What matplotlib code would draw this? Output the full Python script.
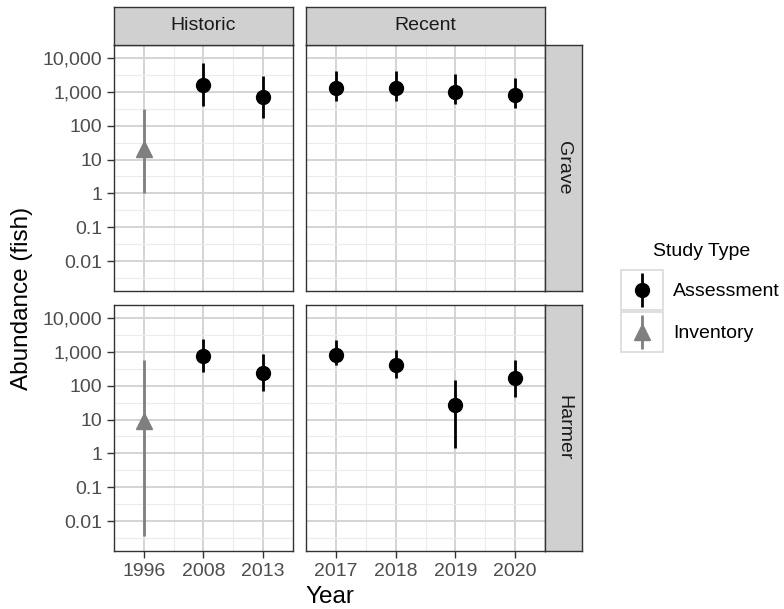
import numpy as np
import matplotlib
matplotlib.use("Agg")
import matplotlib.pyplot as plt
from matplotlib.patches import Rectangle

plt.rcParams['font.family'] = ['Liberation Sans', 'DejaVu Sans']

# data
years_hist = ['1996', '2008', '2013']
years_recent = ['2017', '2018', '2019', '2020']
study_hist = ['Inventory', 'Assessment', 'Assessment']
study_recent = ['Assessment', 'Assessment', 'Assessment', 'Assessment']

grave_est = [20, 1600, 700, 1300, 1300, 1000, 800]
grave_low = [1, 370, 170, 550, 550, 440, 330]
grave_high = [300, 7300, 3000, 4000, 4200, 3300, 2600]

harmer_est = [9, 730, 235, 810, 415, 26, 163]
harmer_low = [0.0036, 250, 68, 400, 170, 1.4, 45]
harmer_high = [580, 2400, 870, 2150, 1140, 147, 580]

rivers = ['Grave', 'Harmer']
periods = ['Historic', 'Recent']
est = {'Grave': grave_est, 'Harmer': harmer_est}
low = {'Grave': grave_low, 'Harmer': harmer_low}
high = {'Grave': grave_high, 'Harmer': harmer_high}

ytick_vals = [0.01, 0.1, 1, 10, 100, 1000, 10000]
ytick_labels = ['0.01', '0.1', '1', '10', '100', '1,000', '10,000']

style = {
    'Assessment': dict(color='black', marker='o', ms=10),
    'Inventory': dict(color='#7f7f7f', marker='^', ms=11),
}

W, H = 784, 609
fig = plt.figure(figsize=(W / 100, H / 100), dpi=100)


def rect(x0, y0, x1, y1):
    return [x0 / W, 1 - y1 / H, (x1 - x0) / W, (y1 - y0) / H]


col_x = [(114, 293), (306, 545)]
row_y = [(45, 291), (305, 551)]
border = '#333333'
strip_fill = '#d0d0d0'

for r, river in enumerate(rivers):
    for c, period in enumerate(periods):
        x0, x1 = col_x[c]
        y0, y1 = row_y[r]
        ax = fig.add_axes(rect(x0, y0, x1, y1))
        if c == 0:
            years, studies, sl = years_hist, study_hist, slice(0, 3)
        else:
            years, studies, sl = years_recent, study_recent, slice(3, 7)
        e = est[river][sl]
        lo = low[river][sl]
        hi = high[river][sl]
        xs = np.arange(len(years))
        for i in range(len(years)):
            st = style[studies[i]]
            ax.vlines(xs[i], lo[i], hi[i], color=st['color'], lw=2, zorder=3)
            ax.plot(xs[i], e[i], linestyle='none', marker=st['marker'],
                    ms=st['ms'], color=st['color'], mec=st['color'], zorder=4)
        ax.set_yscale('log')
        ax.set_ylim(10 ** -2.88, 10 ** 4.38)
        ax.set_xlim(-0.5, len(years) - 0.5)
        ax.set_yticks(ytick_vals)
        ax.set_yticks([10 ** (k + 0.5) for k in range(-3, 4)], minor=True)
        ax.set_xticks(xs)
        ax.set_xticks(xs[:-1] + 0.5, minor=True)
        ax.grid(True, which='major', color='#d4d4d4', lw=1.4, zorder=0)
        ax.grid(True, which='minor', color='#ececec', lw=0.8, zorder=0)
        ax.set_axisbelow(True)
        ax.tick_params(which='minor', length=0)
        ax.tick_params(which='major', length=5, width=1, color=border,
                       labelsize=14, labelcolor='#4d4d4d')
        if c == 0:
            ax.set_yticklabels(ytick_labels)
        else:
            ax.tick_params(axis='y', which='major', length=0, labelleft=False)
        if r == 1:
            ax.set_xticklabels(years)
        else:
            ax.tick_params(axis='x', which='major', length=0, labelbottom=False)
        for sp in ax.spines.values():
            sp.set_color(border)
            sp.set_linewidth(1.0)

# strips along the top
for c, period in enumerate(periods):
    x0, x1 = col_x[c]
    sax = fig.add_axes(rect(x0, 7, x1, 45))
    sax.set_facecolor(strip_fill)
    sax.set_xticks([])
    sax.set_yticks([])
    for sp in sax.spines.values():
        sp.set_color(border)
        sp.set_linewidth(1.0)
    sax.text(0.5, 0.5, period, transform=sax.transAxes, ha='center', va='center',
             fontsize=14, color='#1a1a1a')

# strips on the right
for r, river in enumerate(rivers):
    y0, y1 = row_y[r]
    sax = fig.add_axes(rect(545, y0, 582, y1))
    sax.set_facecolor(strip_fill)
    sax.set_xticks([])
    sax.set_yticks([])
    for sp in sax.spines.values():
        sp.set_color(border)
        sp.set_linewidth(1.0)
    sax.text(0.5, 0.5, river, transform=sax.transAxes, ha='center', va='center',
             fontsize=14, color='#1a1a1a', rotation=270)

fig.text(22 / W, 1 - 298 / H, 'Abundance (fish)', rotation=90, ha='center',
         va='center', fontsize=17.5)
fig.text(330 / W, 1 - 597 / H, 'Year', ha='center', va='center', fontsize=17.5)

# legend
fig.text(702 / W, 1 - 252 / H, 'Study Type', ha='center', va='center', fontsize=14)
lax = fig.add_axes(rect(620, 269, 664, 353))
lax.set_xlim(0, 1)
lax.set_ylim(2, 0)
lax.axis('off')
for k, name in enumerate(['Assessment', 'Inventory']):
    st = style[name]
    lax.add_patch(Rectangle((0.02, k + 0.02), 0.96, 0.96, fill=False,
                            ec='#d9d9d9', lw=1.2))
    lax.vlines(0.5, k + 0.1, k + 0.9, color=st['color'], lw=2)
    lax.plot(0.5, k + 0.5, marker=st['marker'], ms=st['ms'], color=st['color'],
             linestyle='none')
    fig.text(673 / W, 1 - (291 + 42 * k) / H, name, ha='left', va='center',
             fontsize=14)

fig.savefig('out.png', dpi=100)
